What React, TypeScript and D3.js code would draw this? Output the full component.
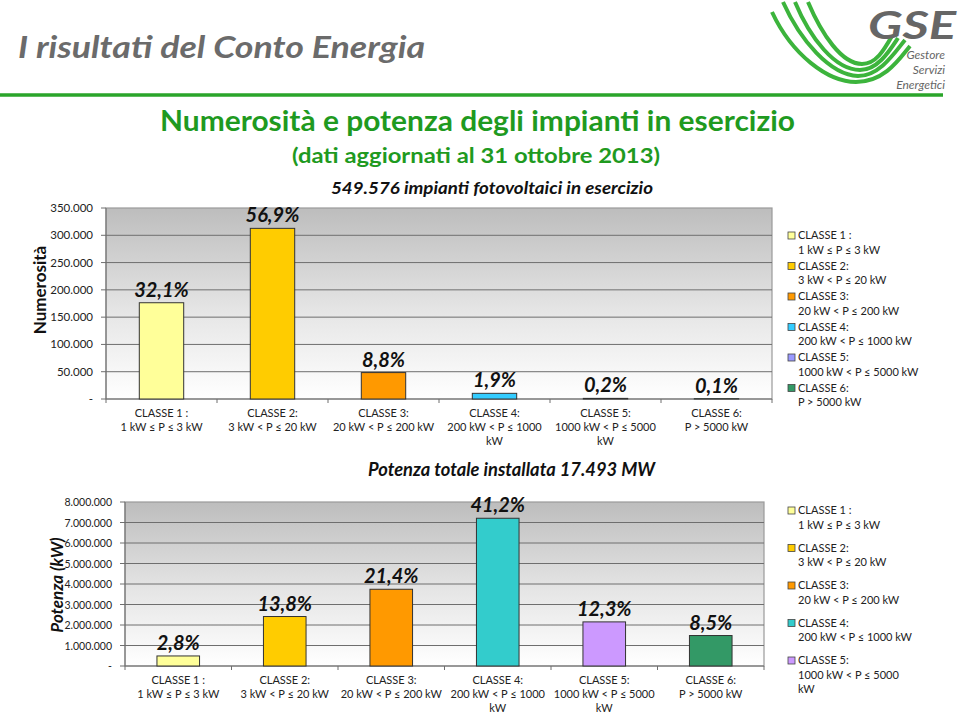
import React from "react";
import * as d3 from "d3";

const categories = ["C1", "C2", "C3", "C4", "C5", "C6"];
const catLabelsTop = [
  ["CLASSE 1 :", "1 kW ≤ P ≤ 3 kW"],
  ["CLASSE 2:", "3 kW < P ≤ 20 kW"],
  ["CLASSE 3:", "20 kW < P ≤ 200 kW"],
  ["CLASSE 4:", "200 kW < P ≤ 1000", "kW"],
  ["CLASSE 5:", "1000 kW < P ≤ 5000", "kW"],
  ["CLASSE 6:", "P > 5000 kW"],
];
const countValues = [176400, 312700, 48400, 10400, 1150, 550];
const countPct = ["32,1%", "56,9%", "8,8%", "1,9%", "0,2%", "0,1%"];
const powerValues = [489800, 2414000, 3743500, 7207000, 2151600, 1487000];
const powerPct = ["2,8%", "13,8%", "21,4%", "41,2%", "12,3%", "8,5%"];
const colorsTop = ["#ffff99", "#ffcc00", "#ff9900", "#33ccff", "#9999ff", "#339966"];
const colorsBottom = ["#ffff99", "#ffcc00", "#ff9900", "#33cccc", "#cc99ff", "#339966"];
const countTicks = [0, 50000, 100000, 150000, 200000, 250000, 300000, 350000];
const powerTicks = [0, 1000000, 2000000, 3000000, 4000000, 5000000, 6000000, 7000000, 8000000];
const legendTop = [
  ["CLASSE 1 :", "1 kW ≤ P ≤ 3 kW"],
  ["CLASSE 2:", "3 kW < P ≤ 20 kW"],
  ["CLASSE 3:", "20 kW < P ≤ 200 kW"],
  ["CLASSE 4:", "200 kW < P ≤ 1000 kW"],
  ["CLASSE 5:", "1000 kW < P ≤ 5000 kW"],
  ["CLASSE 6:", "P > 5000 kW"],
];
const legendBottom = [
  ["CLASSE 1 :", "1 kW ≤ P ≤ 3 kW"],
  ["CLASSE 2:", "3 kW < P ≤ 20 kW"],
  ["CLASSE 3:", "20 kW < P ≤ 200 kW"],
  ["CLASSE 4:", "200 kW < P ≤ 1000 kW"],
  ["CLASSE 5:", "1000 kW < P ≤ 5000", "kW"],
];

const FONT = "Lato, 'Open Sans', sans-serif";
const fmt = (v: number) => (v === 0 ? "-" : d3.format(",")(v).replace(/,/g, "."));

type ChartProps = {
  id: string;
  x0: number; x1: number; yTop: number; yBot: number; max: number;
  values: number[]; pct: string[]; colors: string[]; ticks: number[];
  labelY: number; tickLabelX: number; tickFont: number;
};

function BarChart(p: ChartProps) {
  const x = d3.scaleBand<string>().domain(categories).range([p.x0, p.x1]).padding(0);
  const y = d3.scaleLinear().domain([0, p.max]).range([p.yBot, p.yTop]);
  const bw = x.bandwidth();
  const barW = bw * 0.4;
  return (
    <g>
      <defs>
        <linearGradient id={p.id} x1="0" y1="0" x2="0" y2="1">
          <stop offset="0" stopColor="#bdbdbd" />
          <stop offset="0.55" stopColor="#e6e6e6" />
          <stop offset="1" stopColor="#ffffff" />
        </linearGradient>
      </defs>
      <rect x={p.x0} y={p.yTop} width={p.x1 - p.x0} height={p.yBot - p.yTop} fill={`url(#${p.id})`} stroke="#9a9a9a" strokeWidth={1.2} />
      {p.ticks.map((t) => (
        <g key={t}>
          {t > 0 && t < p.max && <line x1={p.x0} x2={p.x1} y1={y(t)} y2={y(t)} stroke="#6e6e6e" strokeWidth={1} />}
          <line x1={p.x0 - 5} x2={p.x0} y1={y(t)} y2={y(t)} stroke="#6e6e6e" />
          <text x={p.tickLabelX} y={y(t) + 4} textAnchor="end" fontSize={p.tickFont} fill="#222" fontFamily={FONT}>{fmt(t)}</text>
        </g>
      ))}
      <line x1={p.x0} x2={p.x0} y1={p.yTop} y2={p.yBot + 4} stroke="#6e6e6e" />
      <line x1={p.x0} x2={p.x1} y1={p.yBot} y2={p.yBot} stroke="#6e6e6e" strokeWidth={1.2} />
      {categories.map((c) => (
        <line key={"tk" + c} x1={x(c)! + bw} x2={x(c)! + bw} y1={p.yBot} y2={p.yBot + 4} stroke="#6e6e6e" />
      ))}
      {categories.map((c, i) => {
        const bx = x(c)! + (bw - barW) / 2;
        const by = y(p.values[i]);
        return (
          <g key={c}>
            <rect x={bx} y={by} width={barW} height={p.yBot - by} fill={p.colors[i]} stroke="#333" strokeWidth={1} />
            <text x={x(c)! + bw / 2} y={by - 6} textAnchor="middle" fontSize={20} fontWeight="bold" fontStyle="italic" fill="#111" fontFamily={FONT}>{p.pct[i]}</text>
            {catLabelsTop[i].map((ln, j) => (
              <text key={j} x={x(c)! + bw / 2} y={p.labelY + j * 14} textAnchor="middle" fontSize={11} fill="#222" fontFamily={FONT}>{ln}</text>
            ))}
          </g>
        );
      })}
    </g>
  );
}

function Legend({ x, y, items, colors, pitch }: { x: number; y: number; items: string[][]; colors: string[]; pitch: number }) {
  return (
    <g>
      {items.map((it, i) => (
        <g key={i}>
          <rect x={x} y={y + i * pitch - 7} width={7} height={7} fill={colors[i]} stroke="#444" strokeWidth={0.8} />
          {it.map((ln, j) => (
            <text key={j} x={x + 10} y={y + i * pitch + j * 14.5} fontSize={11} fill="#222" fontFamily={FONT}>{ln}</text>
          ))}
        </g>
      ))}
    </g>
  );
}

export default function App() {
  return (
    <svg width={960} height={714} style={{ position: "absolute", left: 0, top: 0, background: "#fff" }}>
      <rect x={0} y={0} width={960} height={714} fill="#fff" />
      {/* header */}
      <text x={18} y={58} fontSize={31} fontWeight="bold" fontStyle="italic" fill="#6b6b6b" fontFamily={FONT} textLength={407} lengthAdjust="spacingAndGlyphs">I risultati del Conto Energia</text>
      <line x1={0} x2={943} y1={95} y2={95} stroke="#2aa52a" strokeWidth={3.5} />
      {/* logo */}
      <g fill="none" stroke="#3cb43c" strokeWidth={4}>
        <path d="M783,2 C800,40 830,75 858,76 C880,76 895,52 905,40" />
        <path d="M795,2 C810,38 835,70 860,70 C878,70 890,50 898,38" />
        <path d="M808,2 C822,35 842,64 862,64 C876,64 884,50 892,36" />
        <path d="M772,12 C792,55 828,82 856,82 C885,82 900,58 910,46" />
      </g>
      <text x={868} y={39} fontSize={38} fontWeight="bold" fontStyle="italic" fill="#666" fontFamily={FONT} textLength={88} lengthAdjust="spacingAndGlyphs">GSE</text>
      <text x={945} y={59} textAnchor="end" fontSize={12} fontStyle="italic" fill="#666" fontFamily={FONT}>Gestore</text>
      <text x={945} y={74} textAnchor="end" fontSize={12} fontStyle="italic" fill="#666" fontFamily={FONT}>Servizi</text>
      <text x={945} y={89} textAnchor="end" fontSize={12} fontStyle="italic" fill="#666" fontFamily={FONT}>Energetici</text>
      {/* titles */}
      <text x={160} y={131} fontSize={28} fontWeight="bold" fill="#1f9a1f" fontFamily={FONT} textLength={635} lengthAdjust="spacingAndGlyphs">Numerosità e potenza degli impianti in esercizio</text>
      <text x={292} y={163} fontSize={21} fontWeight="bold" fill="#1f9a1f" fontFamily={FONT} textLength={368} lengthAdjust="spacingAndGlyphs">(dati aggiornati al 31 ottobre 2013)</text>
      <text x={331} y={194} fontSize={17} fontWeight="bold" fontStyle="italic" fill="#111" fontFamily={FONT} textLength={322} lengthAdjust="spacingAndGlyphs">549.576 impianti  fotovoltaici in esercizio</text>
      <text x={368} y={476} fontSize={18} fontWeight="bold" fontStyle="italic" fill="#111" fontFamily={FONT} textLength={287} lengthAdjust="spacingAndGlyphs">Potenza totale installata 17.493 MW</text>
      {/* axis titles */}
      <text transform="translate(46,290) rotate(-90)" textAnchor="middle" fontSize={17} fontWeight="bold" fill="#111" fontFamily={FONT}>Numerosità</text>
      <text transform="translate(63,585) rotate(-90)" textAnchor="middle" fontSize={17} fontWeight="bold" fontStyle="italic" fill="#111" fontFamily={FONT}>Potenza (kW)</text>
      <BarChart id="g1" x0={106} x1={772} yTop={208} yBot={399} max={350000} values={countValues} pct={countPct} colors={colorsTop} ticks={countTicks} labelY={417} tickLabelX={93} tickFont={11.5} />
      <BarChart id="g2" x0={125} x1={764} yTop={502} yBot={666} max={8000000} values={powerValues} pct={powerPct} colors={colorsBottom} ticks={powerTicks} labelY={684} tickLabelX={112} tickFont={10.5} />
      <Legend x={788} y={239} items={legendTop} colors={colorsTop} pitch={30.5} />
      <Legend x={788} y={514} items={legendBottom} colors={colorsBottom} pitch={37.5} />
    </svg>
  );
}
